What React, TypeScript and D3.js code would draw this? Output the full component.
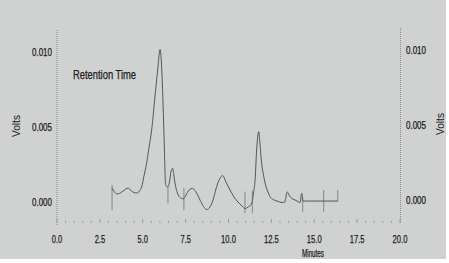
import React from "react";
import * as d3 from "d3";

const times = [3.21, 3.35, 3.5, 3.79, 4.02, 4.14, 4.31, 4.49, 4.66, 4.81, 4.94, 5.07, 5.23, 5.36, 5.52, 5.71, 5.87, 6.01, 6.11, 6.2, 6.26, 6.3, 6.34, 6.45, 6.56, 6.64, 6.74, 6.82, 6.88, 7.07, 7.23, 7.36, 7.52, 7.7, 7.91, 8.1, 8.34, 8.54, 8.73, 8.92, 9.1, 9.27, 9.45, 9.66, 9.85, 10.09, 10.32, 10.55, 10.79, 10.96, 11.14, 11.35, 11.46, 11.55, 11.64, 11.76, 11.84, 11.93, 12.04, 12.13, 12.3, 12.42, 12.61, 12.83, 13.12, 13.29, 13.38, 13.43, 13.56, 13.7, 13.94, 14.17, 14.27, 14.34, 14.75, 16.38];
const volts = [0.0009, 0.00064, 0.0005, 0.00064, 0.00084, 0.0009, 0.00074, 0.0006, 0.00057, 0.0007, 0.00099, 0.0017, 0.00258, 0.00358, 0.00478, 0.00699, 0.0088, 0.01017, 0.0088, 0.00592, 0.00365, 0.00191, 0.0011, 0.00097, 0.0013, 0.00197, 0.00222, 0.0017, 0.00124, 0.00043, 0.00023, 0.00017, 0.00043, 0.00077, 0.00087, 0.00064, 0.0001, -0.00033, -0.00054, -0.00037, 0.0001, 0.00084, 0.00144, 0.00173, 0.0013, 0.00077, 0.0003, -0.00003, -0.0003, -0.00047, -0.00037, -0.00012, 0.00057, 0.00144, 0.00344, 0.00467, 0.00378, 0.00258, 0.00177, 0.00124, 0.00064, 0.00032, 0.00013, 0.00003, -0.00007, -0.00003, 0.0005, 0.00064, 0.00037, 0.0002, 0.00007, -0.00007, 0.00055, 0.00003, 0.00003, 0.00003];

// integration event markers: time, top volts, bottom volts
const markerTimes = [3.21, 6.47, 7.4, 10.96, 11.39, 14.33, 15.55, 16.37];
const markerTops = [0.0011, 0.001, 0.0009, 0.00066, 0.00072, 0.00023, 0.00077, 0.00077];
const markerBottoms = [-0.00057, -0.00012, -0.00057, -0.00079, -0.00079, -0.0007, -0.00068, 0];

const xTickLabels = ["0.0", "2.5", "5.0", "7.5", "10.0", "12.5", "15.0", "17.5", "20.0"];
const xTickValues = [0, 2.5, 5, 7.5, 10, 12.5, 15, 17.5, 20];
const yTickLabels = ["0.000", "0.005", "0.010"];
const yTickValues = [0, 0.005, 0.01];

const W = 449;
const H = 263;

export default function App() {
  const x = d3.scaleLinear().domain([0, 20]).range([57, 400]);
  const y = d3.scaleLinear().domain([0, 0.01]).range([201.5, 52]);
  const pts: [number, number][] = times.map((t, i) => [t, volts[i]]);
  const line = d3
    .line<[number, number]>()
    .x((d) => x(d[0]))
    .y((d) => y(d[1]))
    .curve(d3.curveMonotoneX);
  const minor = d3.range(0, 20.01, 0.5);
  const txt = "#1a1a1a";
  const font = "'Liberation Sans', Arial, sans-serif";
  const ts = { stroke: txt, strokeWidth: 0.25 };
  return (
    <svg
      width={W}
      height={H}
      style={{ position: "absolute", left: 0, top: 0, display: "block" }}
    >
      <rect x={0} y={0} width={W} height={H} fill="#ffffff" />
      <rect x={0} y={0} width={446} height={259} fill="#d0d1d1" />
      {/* axes */}
      <line x1={57} x2={57} y1={30} y2={225} stroke="#8a8c8c" strokeWidth={1} strokeDasharray="1,1" />
      <line x1={400.5} x2={400.5} y1={28} y2={223} stroke="#8a8c8c" strokeWidth={1} strokeDasharray="1,1" />
      {minor.map((m, i) => {
        const major = Math.abs(m / 2.5 - Math.round(m / 2.5)) < 1e-6;
        return (
          <line
            key={"mt" + i}
            x1={x(m)}
            x2={x(m)}
            y1={major ? 219 : 220.5}
            y2={223}
            stroke="#9a9c9c"
            strokeWidth={major ? 1 : 0.8}
          />
        );
      })}
      {xTickValues.map((v, i) => {
        const lab = xTickLabels[i];
        const len = (lab.length - 1) * 4.4 + 1.6;
        return (
          <text
            key={"xl" + i}
            x={x(v)}
            y={242.5}
            textAnchor="middle"
            fontFamily={font}
            fontSize={11.5}
            fill={txt}
            {...ts}
            textLength={len}
            lengthAdjust="spacingAndGlyphs"
          >
            {lab}
          </text>
        );
      })}
      {yTickValues.map((v, i) => (
        <text
          key={"yl" + i}
          x={52}
          y={y(v) + 4}
          textAnchor="end"
          fontFamily={font}
          fontSize={10.5}
          fill={txt}
          {...ts}
          textLength={20}
          lengthAdjust="spacingAndGlyphs"
        >
          {yTickLabels[i]}
        </text>
      ))}
      {yTickValues.map((v, i) => (
        <text
          key={"yr" + i}
          x={406}
          y={y(v) + 2}
          textAnchor="start"
          fontFamily={font}
          fontSize={10.5}
          fill={txt}
          {...ts}
          textLength={20}
          lengthAdjust="spacingAndGlyphs"
        >
          {yTickLabels[i]}
        </text>
      ))}
      <text
        transform="translate(20,126) rotate(-90)"
        textAnchor="middle"
        fontFamily={font}
        fontSize={10}
        fill={txt}
        textLength={22}
        lengthAdjust="spacingAndGlyphs"
      >
        Volts
      </text>
      <text
        transform="translate(444,124) rotate(-90)"
        textAnchor="middle"
        fontFamily={font}
        fontSize={10}
        fill={txt}
        textLength={22}
        lengthAdjust="spacingAndGlyphs"
      >
        Volts
      </text>
      <text
        x={313}
        y={256.5}
        textAnchor="middle"
        fontFamily={font}
        fontSize={10}
        fill={txt}
        {...ts}
        textLength={22}
        lengthAdjust="spacingAndGlyphs"
      >
        Minutes
      </text>
      <text
        x={73}
        y={79}
        fontFamily={font}
        fontSize={13}
        fill={txt}
        {...ts}
        textLength={63}
        lengthAdjust="spacingAndGlyphs"
      >
        Retention Time
      </text>
      {/* integration markers */}
      {markerTimes.map((t, i) => (
        <line
          key={"mk" + i}
          x1={x(t)}
          x2={x(t)}
          y1={y(markerTops[i])}
          y2={y(markerBottoms[i])}
          stroke="#7c7e7e"
          strokeWidth={0.9}
        />
      ))}
      <path d={line(pts) || ""} fill="none" stroke="#555757" strokeWidth={1} />
    </svg>
  );
}
